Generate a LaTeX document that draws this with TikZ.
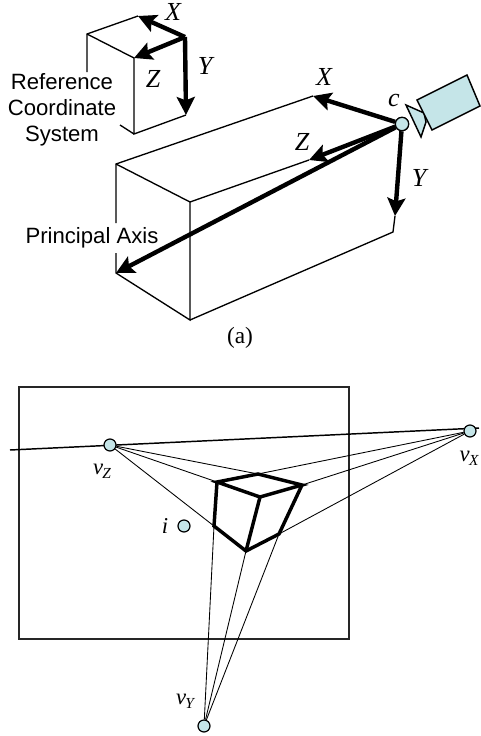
\documentclass[tikz,border=0pt]{standalone}
\usepackage{fontspec}
\setmainfont{Liberation Serif}
\setsansfont{Liberation Sans}
\usetikzlibrary{arrows.meta}
\definecolor{pale}{HTML}{C5E5E8}
\tikzset{
  thinedge/.style={line width=1pt,black},
  ray/.style={line width=0.65pt,black},
  frameline/.style={line width=1.05pt,black!85},
  boldedge/.style={line width=2.6pt,black,line join=miter},
  axis/.style={line width=3.3pt,black,-{Stealth[length=13.5pt,width=13.5pt,inset=2.5pt]}},
  dot/.style={circle,draw=black,line width=0.9pt,fill=pale,inner sep=0pt,minimum size=9pt},
  smalldot/.style={circle,draw=black,line width=0.9pt,fill=pale,inner sep=0pt,minimum size=10pt},
  bodyshape/.style={draw=black,line width=1.1pt,fill=pale,line join=miter},
  axlabel/.style={font=\fontsize{19.5}{19.5}\selectfont\itshape,inner sep=0pt},
  vlabel/.style={font=\fontsize{17}{17}\selectfont,inner sep=0pt},
  sanslabel/.style={font=\sffamily\fontsize{16.6}{19.5}\selectfont,align=center,inner sep=0pt},
  caplabel/.style={font=\fontsize{17.5}{17.5}\selectfont,inner sep=0pt}
}
\newcommand{\vsub}[1]{\textit{v}\kern-0.5pt\raisebox{-3pt}{\fontsize{11.5}{11.5}\selectfont\itshape #1}}
\begin{document}
\begin{tikzpicture}[x=0.75pt,y=-0.75pt]
\useasboundingbox (0,0) rectangle (480,736);
% small cube
\coordinate (sa) at (87,34);
\coordinate (sb) at (138,16);
\coordinate (sc) at (134,58);
\coordinate (so) at (185,37);
\coordinate (sd) at (134,134);
\coordinate (se) at (186,115);
\coordinate (sl) at (87,72);
\coordinate (sm) at (120,125);
\draw[thinedge] (sl) -- (sa) -- (sb);
\draw[thinedge] (sa) -- (sc) -- (sd) -- (se);
\draw[thinedge] (sm) -- (sd);
\draw[axis] (so) -- (sb);
\draw[axis] (so) -- (sc);
\draw[axis] (so) -- (se);
\node[axlabel] (lsx) at (173,12) {X};
\node[axlabel] (lsy) at (205,66) {Y};
\node[axlabel] (lsz) at (153,79) {Z};
\node[sanslabel] (lref) at (62,110) {Reference\\Coordinate\\System};
% large box
\coordinate (ba) at (116,164);
\coordinate (bb) at (190,202);
\coordinate (bx) at (313,96);
\coordinate (bz) at (309,160);
\coordinate (bc) at (190,320);
\coordinate (bd) at (116,273);
\coordinate (be) at (393,232);
\coordinate (by) at (395,216);
\coordinate (bl1) at (116,223);
\coordinate (bl2) at (116,253);
\node[smalldot] (c) at (402,124) {};
\draw[thinedge] (bl1) -- (ba) -- (bx);
\draw[thinedge] (bl2) -- (bd) -- (bc) -- (bb) -- (ba);
\draw[thinedge] (bb) -- (bz);
\draw[thinedge] (bc) -- (be) -- (by);
\draw[axis] (c) -- (bx);
\draw[axis] (c) -- (bz);
\draw[axis] (c) -- (by);
\draw[axis] (c) -- (bd);
\node[smalldot] at (c) {};
\node[axlabel] (lbx) at (324,77) {X};
\node[axlabel] (lbz) at (302,142) {Z};
\node[axlabel] (lbc) at (394,100) {c};
\node[axlabel] (lby) at (419,178) {Y};
\node[sanslabel] (lpa) at (92,238) {Principal Axis};
% camera
\draw[bodyshape] (406,105) -- (424,113) -- (426,122) -- (421,137) -- cycle;
\draw[bodyshape] (417,100) -- (467,75) -- (480,106) -- (432,130) -- cycle;
\node[caplabel] (capa) at (240,338) {(a)};
% image plane
\coordinate (fa) at (19,387);
\coordinate (fb) at (349,639);
\draw[frameline] (fa) rectangle (fb);
\coordinate (hl) at (10,450);
\coordinate (hr) at (479,428);
\draw[line width=1.1pt] (hl) -- (hr);
\coordinate (A) at (217,482);
\coordinate (B) at (258,474);
\coordinate (C) at (302,485);
\coordinate (D) at (260,497);
\coordinate (E) at (214,526);
\coordinate (F) at (246,551);
\coordinate (G) at (279,534);
\node[dot] (vz) at (110,445) {};
\node[dot] (vx) at (470,431) {};
\node[dot] (vy) at (204,726) {};
\node[dot] (i) at (184,526) {};
\foreach \p in {A,B,E} \draw[ray] (vz) -- (\p);
\foreach \p in {B,C,G} \draw[ray] (vx) -- (\p);
\foreach \p in {E,F,G} \draw[ray] (vy) -- (\p);
\draw[boldedge] (A) -- (B) -- (C) -- (D) -- cycle;
\draw[boldedge] (A) -- (E) -- (F) -- (G) -- (C);
\draw[boldedge] (D) -- (F);
\node[vlabel] (lvz) at (102,471) {\vsub{Z}};
\node[vlabel] (lvx) at (469,458) {\vsub{X}};
\node[vlabel] (lvy) at (185,701) {\vsub{Y}};
\node[vlabel] (li) at (165,526) {\textit{i}};
\end{tikzpicture}
\end{document}
